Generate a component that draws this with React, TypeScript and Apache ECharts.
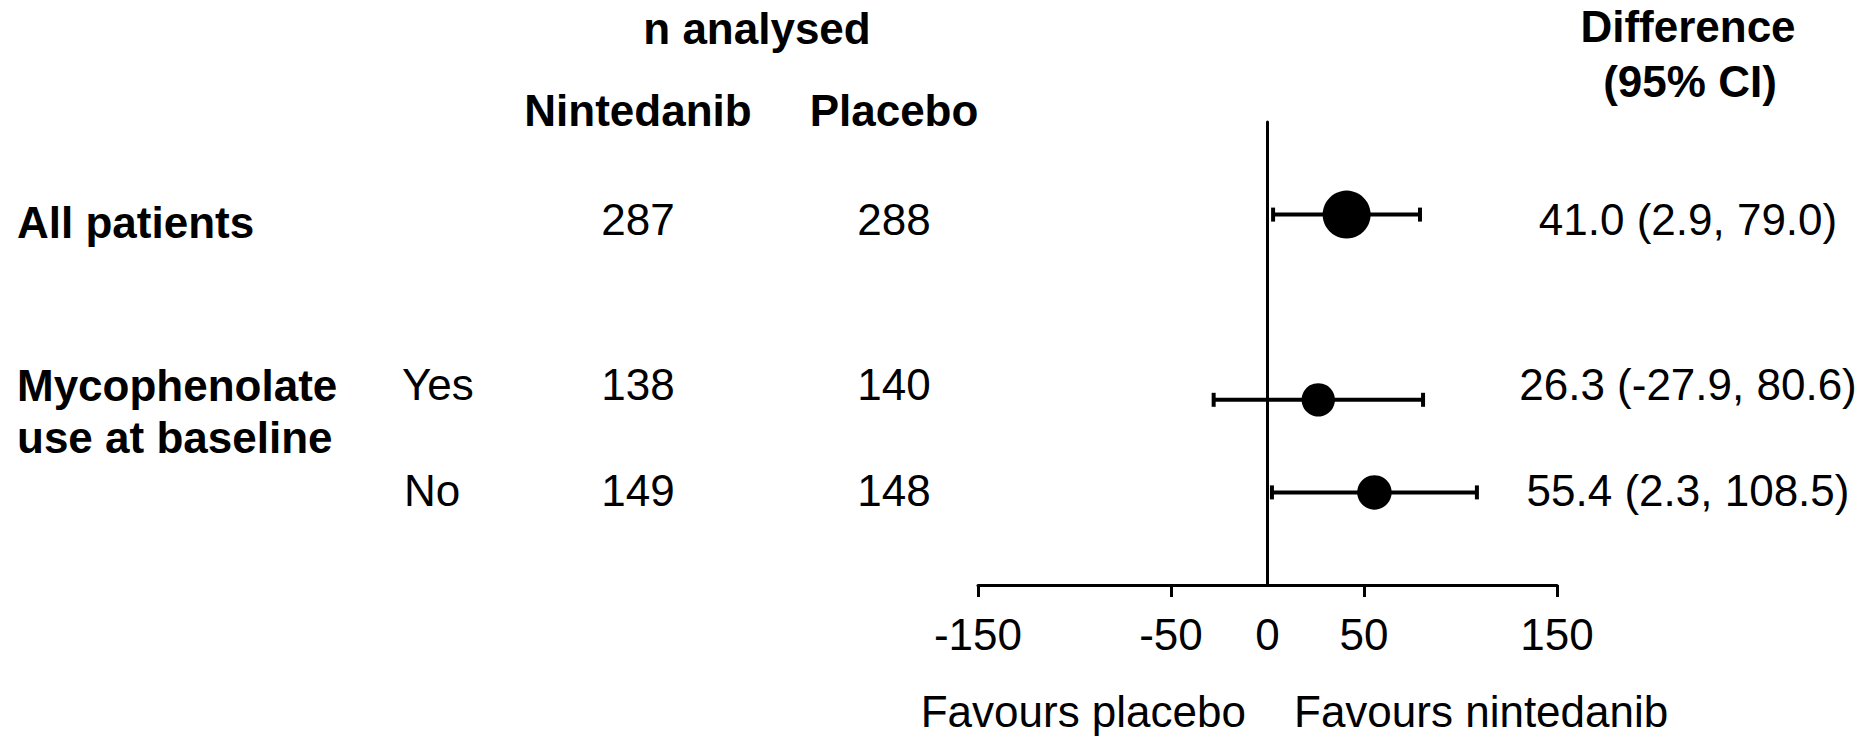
import React, { useEffect, useRef } from "react";
import * as echarts from "echarts";

// ---------- data ----------
const nHeader = "n analysed";
const armNames = ["Nintedanib", "Placebo"];
const diffHeader = ["Difference", "(95% CI)"];
const groupTitles = ["All patients", "Mycophenolate\nuse at baseline"];
const subLabels = ["", "Yes", "No"];
const nNintedanib = [287, 138, 149];
const nPlacebo = [288, 140, 148];
const estimates = [41.0, 26.3, 55.4];
const lowerCI = [2.9, -27.9, 2.3];
const upperCI = [79.0, 80.6, 108.5];
const tickValues = [-150, -50, 50, 150];
const tickLabels = [-150, -50, 0, 50, 150];
const favourLabels = ["Favours placebo", "Favours nintedanib"];

// ---------- layout ----------
const rowSlots = [0, 2, 3];
const textRowY = [219, 384, 490];
const FONT = "'Liberation Sans', Arial, Helvetica, sans-serif";
const FS = 44;

const fmt = (v: number) => v.toFixed(1);

export default function App() {
  const ref = useRef<HTMLDivElement>(null);
  useEffect(() => {
    document.body.style.margin = "0";
    const chart = echarts.init(ref.current!, null, { renderer: "svg" });

    const txt = (
      text: string,
      x: number,
      y: number,
      align: string,
      bold: boolean,
      lineHeight = FS
    ) => ({
      type: "text",
      x,
      y,
      style: {
        text,
        x: 0,
        y: 0,
        align,
        verticalAlign: "middle",
        font: `${bold ? "bold " : ""}${FS}px ${FONT}`,
        fontFamily: FONT,
        fontSize: FS,
        fontWeight: bold ? "bold" : "normal",
        lineHeight,
        fill: "#000",
      },
    });

    const graphics: any[] = [
      txt(nHeader, 757, 28, "center", true),
      txt(armNames[0], 638, 110, "center", true),
      txt(armNames[1], 894, 110, "center", true),
      txt(diffHeader[0], 1688, 26, "center", true),
      txt(diffHeader[1], 1690, 81, "center", true),
      txt(groupTitles[0], 17, textRowY[0] + 3, "left", true),
      txt(groupTitles[1], 17, 411, "left", true, 52),
      txt(subLabels[1], 402, textRowY[1], "left", false),
      txt(subLabels[2], 404, textRowY[2], "left", false),
      txt(favourLabels[0], 1246, 711, "right", false),
      txt(favourLabels[1], 1294, 711, "left", false),
    ];
    for (let i = 0; i < estimates.length; i++) {
      graphics.push(txt(String(nNintedanib[i]), 638, textRowY[i], "center", false));
      graphics.push(txt(String(nPlacebo[i]), 894, textRowY[i], "center", false));
      graphics.push(
        txt(
          `${fmt(estimates[i])} (${fmt(lowerCI[i])}, ${fmt(upperCI[i])})`,
          1688,
          textRowY[i],
          "center",
          false
        )
      );
    }

    const ciData = estimates.map((_, i) => [rowSlots[i], lowerCI[i], upperCI[i]]);
    const ptData = estimates.map((e, i) => [e, rowSlots[i], nNintedanib[i] + nPlacebo[i]]);

    chart.setOption({
      animation: false,
      textStyle: { fontFamily: FONT },
      grid: { left: 978, right: 313, top: 122, bottom: 153, containLabel: false },
      xAxis: {
        type: "value",
        min: -150,
        max: 150,
        interval: 50,
        position: "bottom",
        splitLine: { show: false },
        axisLine: { show: true, onZero: false, lineStyle: { color: "#000", width: 3 } },
        axisTick: {
          show: true,
          length: 12,
          customValues: tickValues,
          lineStyle: { color: "#000", width: 3 },
        },
        axisLabel: {
          show: true,
          customValues: tickLabels,
          margin: 27,
          fontSize: FS,
          lineHeight: FS,
          color: "#000",
          fontFamily: FONT,
        },
      },
      yAxis: {
        type: "value",
        min: -1,
        max: 4,
        inverse: true,
        splitLine: { show: false },
        axisLine: { show: true, onZero: true, lineStyle: { color: "#000", width: 3 } },
        axisTick: { show: false },
        axisLabel: { show: false },
      },
      series: [
        {
          type: "custom",
          data: ciData,
          encode: { x: [1, 2], y: 0 },
          z: 3,
          renderItem: (params: any, api: any) => {
            const y = api.value(0);
            const lo = api.coord([api.value(1), y]);
            const hi = api.coord([api.value(2), y]);
            const cap = 7;
            const st = { stroke: "#000", lineWidth: 4 };
            return {
              type: "group",
              children: [
                { type: "line", shape: { x1: lo[0], y1: lo[1], x2: hi[0], y2: hi[1] }, style: st },
                { type: "line", shape: { x1: lo[0], y1: lo[1] - cap, x2: lo[0], y2: lo[1] + cap }, style: st },
                { type: "line", shape: { x1: hi[0], y1: hi[1] - cap, x2: hi[0], y2: hi[1] + cap }, style: st },
              ],
            };
          },
        },
        {
          type: "scatter",
          data: ptData,
          z: 4,
          symbol: "circle",
          symbolSize: (v: number[]) => 2 * Math.sqrt(v[2]),
          itemStyle: { color: "#000", opacity: 1 },
        },
      ],
      graphic: graphics,
    });
    return () => chart.dispose();
  }, []);
  return <div ref={ref} style={{ width: 1870, height: 738 }} />;
}
